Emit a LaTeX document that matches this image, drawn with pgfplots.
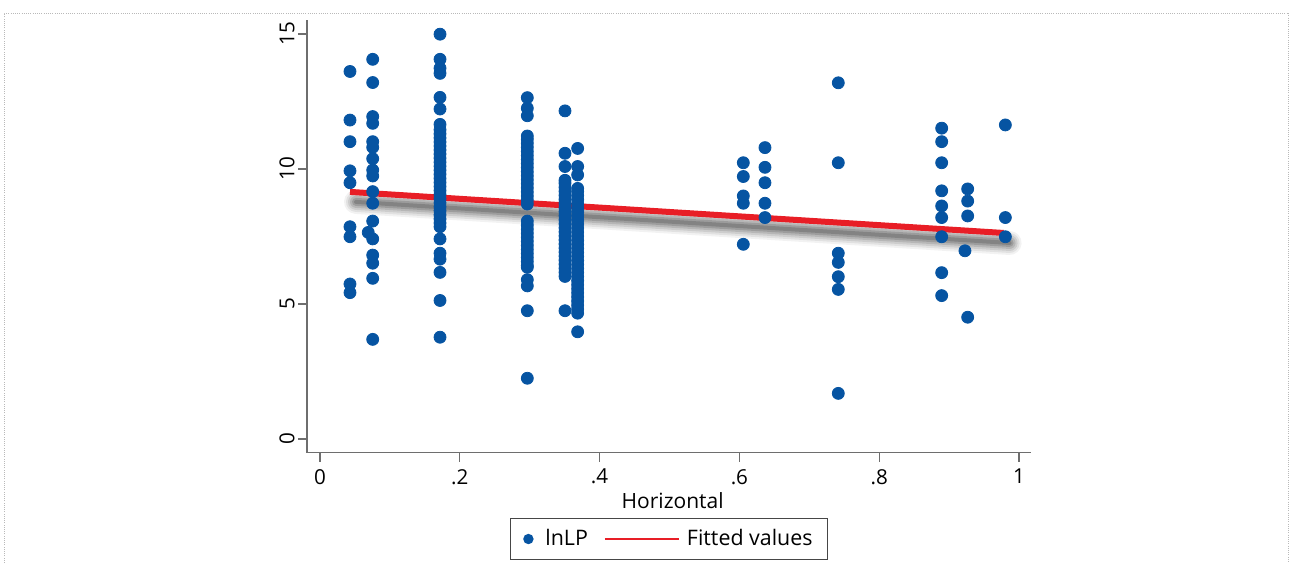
\documentclass[border=0pt]{standalone}
\usepackage{pgfplots}
\pgfplotsset{compat=1.18}
\usepackage{pgfplotstable}
\usepackage{fontspec}
\setmainfont{Open Sans}
\definecolor{dotblue}{RGB}{6,84,162}
\definecolor{fitred}{RGB}{232,30,38}
\definecolor{axgray}{RGB}{110,110,110}
\definecolor{leggray}{RGB}{70,70,70}

\pgfplotstableread{
x y
0.0429 13.61
0.0429 11.81
0.0429 11.01
0.0429 9.93
0.0429 9.49
0.0429 7.86
0.0429 7.49
0.0429 5.74
0.0429 5.42
0.0754 14.06
0.0754 13.20
0.0754 11.94
0.0754 11.69
0.0754 11.01
0.0754 10.80
0.0754 10.38
0.0754 9.96
0.0754 9.74
0.0754 9.16
0.0754 8.73
0.0754 8.07
0.0690 7.65
0.0754 7.41
0.0754 6.81
0.0754 6.51
0.0754 5.95
0.0754 3.69
0.1717 14.99
0.1717 14.06
0.1717 13.73
0.1717 13.54
0.1717 12.65
0.1717 12.22
0.1717 11.65
0.1717 11.45
0.1717 11.30
0.1717 11.15
0.1717 11.00
0.1717 10.85
0.1717 10.70
0.1717 10.55
0.1717 10.40
0.1717 10.25
0.1717 10.10
0.1717 9.95
0.1717 9.80
0.1717 9.65
0.1717 9.50
0.1717 9.35
0.1717 9.20
0.1717 9.05
0.1717 8.90
0.1717 8.75
0.1717 8.60
0.1717 8.45
0.1717 8.30
0.1717 8.15
0.1717 8.00
0.1717 7.86
0.1717 7.41
0.1717 6.88
0.1717 6.66
0.1717 6.17
0.1717 5.13
0.1717 3.77
0.2966 12.64
0.2966 12.25
0.2966 11.97
0.2966 11.22
0.2966 11.10
0.2966 10.95
0.2966 10.80
0.2966 10.65
0.2966 10.50
0.2966 10.35
0.2966 10.20
0.2966 10.05
0.2966 9.90
0.2966 9.75
0.2966 9.60
0.2966 9.45
0.2966 9.30
0.2966 9.15
0.2966 9.00
0.2966 8.85
0.2966 8.70
0.2966 8.07
0.2966 7.92
0.2966 7.77
0.2966 7.62
0.2966 7.47
0.2966 7.32
0.2966 7.17
0.2966 7.02
0.2966 6.87
0.2966 6.72
0.2966 6.57
0.2966 6.42
0.2966 6.36
0.2966 5.90
0.2966 5.67
0.2966 4.75
0.2966 2.25
0.3505 12.15
0.3505 10.58
0.3505 10.09
0.3505 9.58
0.3505 9.47
0.3505 9.32
0.3505 9.17
0.3505 9.02
0.3505 8.87
0.3505 8.72
0.3505 8.57
0.3505 8.42
0.3505 8.27
0.3505 8.12
0.3505 7.97
0.3505 7.82
0.3505 7.67
0.3505 7.52
0.3505 7.37
0.3505 7.22
0.3505 7.07
0.3505 6.92
0.3505 6.77
0.3505 6.62
0.3505 6.47
0.3505 6.32
0.3505 6.17
0.3505 6.02
0.3505 4.75
0.3686 10.76
0.3686 10.09
0.3686 9.78
0.3686 9.28
0.3686 9.16
0.3686 9.01
0.3686 8.86
0.3686 8.71
0.3686 8.56
0.3686 8.41
0.3686 8.26
0.3686 8.11
0.3686 7.96
0.3686 7.81
0.3686 7.66
0.3686 7.51
0.3686 7.36
0.3686 7.21
0.3686 7.06
0.3686 6.91
0.3686 6.76
0.3686 6.61
0.3686 6.46
0.3686 6.31
0.3686 6.16
0.3686 6.01
0.3686 5.86
0.3686 5.71
0.3686 5.56
0.3686 5.41
0.3686 5.26
0.3686 5.11
0.3686 4.96
0.3686 4.81
0.3686 4.66
0.3686 3.97
0.6056 10.23
0.6056 9.72
0.6056 9.00
0.6056 8.73
0.6056 7.21
0.6366 10.79
0.6366 10.06
0.6366 9.49
0.6366 8.73
0.6366 8.20
0.7415 13.19
0.7415 10.23
0.7415 6.88
0.7415 6.54
0.7415 6.01
0.7415 5.54
0.7415 1.69
0.8894 11.51
0.8894 11.01
0.8894 10.23
0.8894 9.19
0.8894 8.63
0.8894 8.20
0.8894 7.49
0.8894 6.16
0.8894 5.31
0.9266 9.26
0.9266 8.81
0.9266 8.26
0.9227 6.97
0.9266 4.51
0.9805 11.63
0.9805 8.20
0.9805 7.49
}\scatterdata

\pgfplotstableread{
x y
0.0429 9.15
0.9780 7.63
}\fitdata

\begin{document}
\begin{tikzpicture}
\useasboundingbox (0,0) rectangle (645pt,-281.5pt);
\draw[gray!55, line width=0.4pt, dash pattern=on 0.5pt off 0.6pt]
  (2pt,-281.5pt) -- (2pt,-6.5pt) -- (644.3pt,-6.5pt) -- (644.3pt,-281.5pt);
\begin{axis}[
  at={(153.5pt,-226.35pt)}, anchor=south west,
  scale only axis, width=362pt, height=216.55pt,
  xmin=-0.0186, xmax=1.0172, ymin=-0.507, ymax=15.53,
  axis lines=left,
  axis line style={-, axgray, line width=0.6pt},
  xtick={0,0.2,0.4,0.6,0.8,1}, xticklabels={0,.2,.4,.6,.8,1},
  ytick={0,5,10,15}, yticklabels={0,5,10,15},
  tick align=outside, major tick length=4.5pt,
  tick style={axgray, line width=0.6pt},
  ticklabel style={font=\fontsize{10.3pt}{12pt}\selectfont},
  yticklabel style={rotate=90, anchor=south, inner sep=0pt, yshift=1.5pt},
  xticklabel style={anchor=north, inner sep=0pt, yshift=-3.5pt},
  xlabel={Horizontal},
  xlabel style={at={(axis description cs:0.505,0)}, anchor=base, yshift=-28pt,
    inner sep=0pt, font=\fontsize{10.5pt}{12pt}\selectfont},
  legend columns=2,
  legend cell align=left,
  legend style={at={(axis description cs:0.5,-0.1508)}, anchor=north,
    draw=leggray, line width=0.5pt, inner xsep=0pt, inner ysep=0pt,
    /tikz/column sep=0pt,
    nodes={inner sep=0pt, text height=13.5pt, text depth=7pt},
    font=\fontsize{10.7pt}{12pt}\selectfont},
]
\addplot[only marks, mark=*, mark size=3pt, color=dotblue,
  mark options={draw=dotblue, fill=dotblue},
  legend image code/.code={\path[draw=none,fill=none] (-9pt,0) -- (8.5pt,0); \fill[dotblue, draw=none] (0,0) circle (2.6pt);}]
  table[x=x, y=y] {\scatterdata};
\addlegendentry{lnLP}
\addplot[forget plot, black, opacity=0.05, line width=12pt, line cap=round, xshift=3pt, yshift=-5pt] table[x=x,y=y] {\fitdata};
\addplot[forget plot, black, opacity=0.07, line width=10pt, line cap=round, xshift=3pt, yshift=-5pt] table[x=x,y=y] {\fitdata};
\addplot[forget plot, black, opacity=0.09, line width=8pt, line cap=round, xshift=3pt, yshift=-5pt] table[x=x,y=y] {\fitdata};
\addplot[forget plot, black, opacity=0.11, line width=6pt, line cap=round, xshift=3pt, yshift=-5pt] table[x=x,y=y] {\fitdata};
\addplot[forget plot, black, opacity=0.14, line width=4pt, line cap=round, xshift=3pt, yshift=-5pt] table[x=x,y=y] {\fitdata};
\addplot[forget plot, black, opacity=0.16, line width=2pt, line cap=round, xshift=3pt, yshift=-5pt] table[x=x,y=y] {\fitdata};
\addplot[fitred, line width=3pt,
  legend image code/.code={\path[draw=none,fill=none] (-8.5pt,0) -- (41pt,0); \draw[fitred, line width=0.7pt] (0,0) -- (37pt,0);}]
  table[x=x,y=y] {\fitdata};
\addlegendentry{Fitted values\kern7.5pt}
\end{axis}
\end{tikzpicture}
\end{document}
